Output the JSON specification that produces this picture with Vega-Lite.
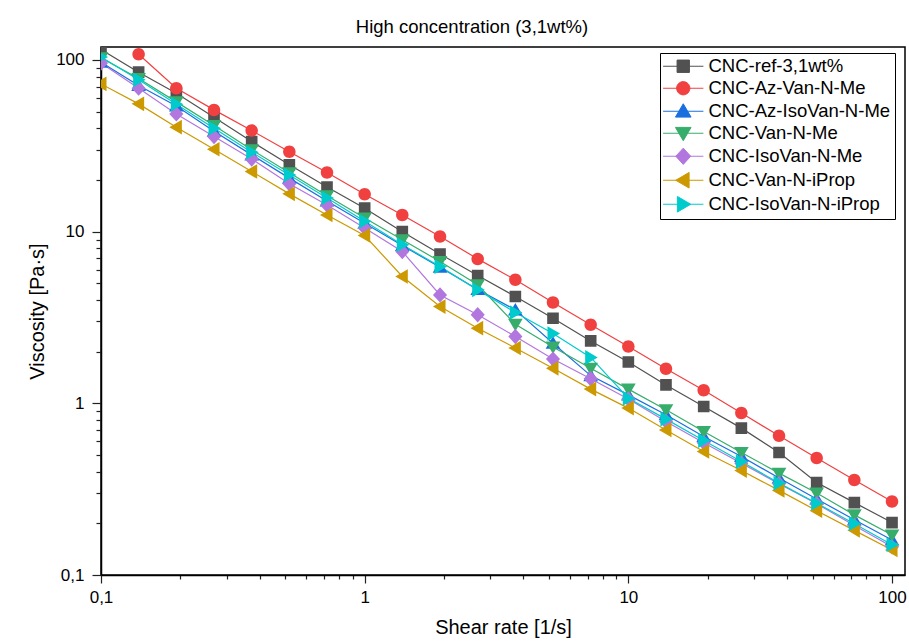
{
  "$schema": "https://vega.github.io/schema/vega-lite/v6.json",
  "width": 804,
  "height": 528,
  "autosize": {"type": "none"},
  "padding": {"left": 101, "top": 47, "right": 4, "bottom": 69},
  "background": "white",
  "title": {"text": "High concentration (3,1wt%)", "font": "Liberation Sans", "fontSize": 18.5, "fontWeight": "normal", "color": "#000", "anchor": "middle", "dx": -31, "dy": 18, "offset": 14, "frame": "group", "baseline": "alphabetic"},
  "config": {
    "view": {"stroke": "#000", "strokeWidth": 1.5},
    "axis": {"domainColor": "#000", "domainWidth": 1.5, "tickColor": "#222", "tickWidth": 1.2, "labelFont": "Liberation Sans", "labelFontSize": 17, "labelColor": "#000", "titleFont": "Liberation Sans", "titleFontSize": 20, "titleFontWeight": "normal", "titleColor": "#000", "grid": false},
    "legend": {"orient": "none", "legendX": 559, "legendY": 6, "padding": 4, "rowPadding": 3, "title": null,
      "strokeColor": "#000", "symbolOffset": 10, "labelOffset": 16, "labelLimit": 400, "labelFont": "Liberation Sans", "labelFontSize": 18.5, "labelColor": "#000",
      "symbolSize": 169, "symbolStrokeWidth": 1}
  },
  "data": {"values": [
    {"s": "CNC-ref-3,1wt%", "x": 0.1, "y": 115},
    {"s": "CNC-ref-3,1wt%", "x": 0.1389, "y": 84.9},
    {"s": "CNC-ref-3,1wt%", "x": 0.1931, "y": 64},
    {"s": "CNC-ref-3,1wt%", "x": 0.2683, "y": 46.4},
    {"s": "CNC-ref-3,1wt%", "x": 0.3728, "y": 33.5},
    {"s": "CNC-ref-3,1wt%", "x": 0.518, "y": 24.5},
    {"s": "CNC-ref-3,1wt%", "x": 0.7197, "y": 18.2},
    {"s": "CNC-ref-3,1wt%", "x": 1, "y": 13.7},
    {"s": "CNC-ref-3,1wt%", "x": 1.389, "y": 10.0},
    {"s": "CNC-ref-3,1wt%", "x": 1.931, "y": 7.4},
    {"s": "CNC-ref-3,1wt%", "x": 2.683, "y": 5.55},
    {"s": "CNC-ref-3,1wt%", "x": 3.728, "y": 4.19},
    {"s": "CNC-ref-3,1wt%", "x": 5.179, "y": 3.13},
    {"s": "CNC-ref-3,1wt%", "x": 7.197, "y": 2.31},
    {"s": "CNC-ref-3,1wt%", "x": 10, "y": 1.74},
    {"s": "CNC-ref-3,1wt%", "x": 13.89, "y": 1.28},
    {"s": "CNC-ref-3,1wt%", "x": 19.31, "y": 0.958},
    {"s": "CNC-ref-3,1wt%", "x": 26.83, "y": 0.717},
    {"s": "CNC-ref-3,1wt%", "x": 37.28, "y": 0.517},
    {"s": "CNC-ref-3,1wt%", "x": 51.79, "y": 0.346},
    {"s": "CNC-ref-3,1wt%", "x": 71.97, "y": 0.264},
    {"s": "CNC-ref-3,1wt%", "x": 100, "y": 0.202},
    {"s": "CNC-Az-Van-N-Me", "x": 0.1389, "y": 108},
    {"s": "CNC-Az-Van-N-Me", "x": 0.1931, "y": 68.5},
    {"s": "CNC-Az-Van-N-Me", "x": 0.2683, "y": 51.2},
    {"s": "CNC-Az-Van-N-Me", "x": 0.3728, "y": 38.8},
    {"s": "CNC-Az-Van-N-Me", "x": 0.518, "y": 29.2},
    {"s": "CNC-Az-Van-N-Me", "x": 0.7197, "y": 22.1},
    {"s": "CNC-Az-Van-N-Me", "x": 1, "y": 16.5},
    {"s": "CNC-Az-Van-N-Me", "x": 1.389, "y": 12.5},
    {"s": "CNC-Az-Van-N-Me", "x": 1.931, "y": 9.36},
    {"s": "CNC-Az-Van-N-Me", "x": 2.683, "y": 6.94},
    {"s": "CNC-Az-Van-N-Me", "x": 3.728, "y": 5.24},
    {"s": "CNC-Az-Van-N-Me", "x": 5.179, "y": 3.87},
    {"s": "CNC-Az-Van-N-Me", "x": 7.197, "y": 2.87},
    {"s": "CNC-Az-Van-N-Me", "x": 10, "y": 2.14},
    {"s": "CNC-Az-Van-N-Me", "x": 13.89, "y": 1.59},
    {"s": "CNC-Az-Van-N-Me", "x": 19.31, "y": 1.19},
    {"s": "CNC-Az-Van-N-Me", "x": 26.83, "y": 0.877},
    {"s": "CNC-Az-Van-N-Me", "x": 37.28, "y": 0.647},
    {"s": "CNC-Az-Van-N-Me", "x": 51.79, "y": 0.48},
    {"s": "CNC-Az-Van-N-Me", "x": 71.97, "y": 0.358},
    {"s": "CNC-Az-Van-N-Me", "x": 100, "y": 0.268},
    {"s": "CNC-Az-IsoVan-N-Me", "x": 0.1, "y": 97},
    {"s": "CNC-Az-IsoVan-N-Me", "x": 0.1389, "y": 71},
    {"s": "CNC-Az-IsoVan-N-Me", "x": 0.1931, "y": 54},
    {"s": "CNC-Az-IsoVan-N-Me", "x": 0.2683, "y": 38.5},
    {"s": "CNC-Az-IsoVan-N-Me", "x": 0.3728, "y": 28},
    {"s": "CNC-Az-IsoVan-N-Me", "x": 0.518, "y": 20.5},
    {"s": "CNC-Az-IsoVan-N-Me", "x": 0.7197, "y": 15.1},
    {"s": "CNC-Az-IsoVan-N-Me", "x": 1, "y": 11.2},
    {"s": "CNC-Az-IsoVan-N-Me", "x": 1.389, "y": 8.3},
    {"s": "CNC-Az-IsoVan-N-Me", "x": 1.931, "y": 6.2},
    {"s": "CNC-Az-IsoVan-N-Me", "x": 2.683, "y": 4.6},
    {"s": "CNC-Az-IsoVan-N-Me", "x": 3.728, "y": 3.5},
    {"s": "CNC-Az-IsoVan-N-Me", "x": 5.179, "y": 2.24},
    {"s": "CNC-Az-IsoVan-N-Me", "x": 7.197, "y": 1.45},
    {"s": "CNC-Az-IsoVan-N-Me", "x": 10, "y": 1.12},
    {"s": "CNC-Az-IsoVan-N-Me", "x": 13.89, "y": 0.857},
    {"s": "CNC-Az-IsoVan-N-Me", "x": 19.31, "y": 0.64},
    {"s": "CNC-Az-IsoVan-N-Me", "x": 26.83, "y": 0.49},
    {"s": "CNC-Az-IsoVan-N-Me", "x": 37.28, "y": 0.367},
    {"s": "CNC-Az-IsoVan-N-Me", "x": 51.79, "y": 0.277},
    {"s": "CNC-Az-IsoVan-N-Me", "x": 71.97, "y": 0.21},
    {"s": "CNC-Az-IsoVan-N-Me", "x": 100, "y": 0.16},
    {"s": "CNC-Van-N-Me", "x": 0.1, "y": 103},
    {"s": "CNC-Van-N-Me", "x": 0.1389, "y": 78},
    {"s": "CNC-Van-N-Me", "x": 0.1931, "y": 57},
    {"s": "CNC-Van-N-Me", "x": 0.2683, "y": 41.5},
    {"s": "CNC-Van-N-Me", "x": 0.3728, "y": 30},
    {"s": "CNC-Van-N-Me", "x": 0.518, "y": 22},
    {"s": "CNC-Van-N-Me", "x": 0.7197, "y": 16.2},
    {"s": "CNC-Van-N-Me", "x": 1, "y": 12.0},
    {"s": "CNC-Van-N-Me", "x": 1.389, "y": 8.96},
    {"s": "CNC-Van-N-Me", "x": 1.931, "y": 6.7},
    {"s": "CNC-Van-N-Me", "x": 2.683, "y": 4.9},
    {"s": "CNC-Van-N-Me", "x": 3.728, "y": 2.89},
    {"s": "CNC-Van-N-Me", "x": 5.179, "y": 2.13},
    {"s": "CNC-Van-N-Me", "x": 7.197, "y": 1.6},
    {"s": "CNC-Van-N-Me", "x": 10, "y": 1.21},
    {"s": "CNC-Van-N-Me", "x": 13.89, "y": 0.917},
    {"s": "CNC-Van-N-Me", "x": 19.31, "y": 0.685},
    {"s": "CNC-Van-N-Me", "x": 26.83, "y": 0.517},
    {"s": "CNC-Van-N-Me", "x": 37.28, "y": 0.392},
    {"s": "CNC-Van-N-Me", "x": 51.79, "y": 0.3},
    {"s": "CNC-Van-N-Me", "x": 71.97, "y": 0.224},
    {"s": "CNC-Van-N-Me", "x": 100, "y": 0.171},
    {"s": "CNC-IsoVan-N-Me", "x": 0.1, "y": 96},
    {"s": "CNC-IsoVan-N-Me", "x": 0.1389, "y": 68.5},
    {"s": "CNC-IsoVan-N-Me", "x": 0.1931, "y": 48.5},
    {"s": "CNC-IsoVan-N-Me", "x": 0.2683, "y": 35.8},
    {"s": "CNC-IsoVan-N-Me", "x": 0.3728, "y": 26.5},
    {"s": "CNC-IsoVan-N-Me", "x": 0.518, "y": 19},
    {"s": "CNC-IsoVan-N-Me", "x": 0.7197, "y": 14.3},
    {"s": "CNC-IsoVan-N-Me", "x": 1, "y": 10.5},
    {"s": "CNC-IsoVan-N-Me", "x": 1.389, "y": 7.66},
    {"s": "CNC-IsoVan-N-Me", "x": 1.931, "y": 4.28},
    {"s": "CNC-IsoVan-N-Me", "x": 2.683, "y": 3.28},
    {"s": "CNC-IsoVan-N-Me", "x": 3.728, "y": 2.45},
    {"s": "CNC-IsoVan-N-Me", "x": 5.179, "y": 1.81},
    {"s": "CNC-IsoVan-N-Me", "x": 7.197, "y": 1.39},
    {"s": "CNC-IsoVan-N-Me", "x": 10, "y": 1.06},
    {"s": "CNC-IsoVan-N-Me", "x": 13.89, "y": 0.784},
    {"s": "CNC-IsoVan-N-Me", "x": 19.31, "y": 0.59},
    {"s": "CNC-IsoVan-N-Me", "x": 26.83, "y": 0.448},
    {"s": "CNC-IsoVan-N-Me", "x": 37.28, "y": 0.34},
    {"s": "CNC-IsoVan-N-Me", "x": 51.79, "y": 0.26},
    {"s": "CNC-IsoVan-N-Me", "x": 71.97, "y": 0.194},
    {"s": "CNC-IsoVan-N-Me", "x": 100, "y": 0.146},
    {"s": "CNC-Van-N-iProp", "x": 0.1, "y": 72.5},
    {"s": "CNC-Van-N-iProp", "x": 0.1389, "y": 55.5},
    {"s": "CNC-Van-N-iProp", "x": 0.1931, "y": 40.6},
    {"s": "CNC-Van-N-iProp", "x": 0.2683, "y": 30.2},
    {"s": "CNC-Van-N-iProp", "x": 0.3728, "y": 22.4},
    {"s": "CNC-Van-N-iProp", "x": 0.518, "y": 16.6},
    {"s": "CNC-Van-N-iProp", "x": 0.7197, "y": 12.5},
    {"s": "CNC-Van-N-iProp", "x": 1, "y": 9.5},
    {"s": "CNC-Van-N-iProp", "x": 1.389, "y": 5.48},
    {"s": "CNC-Van-N-iProp", "x": 1.931, "y": 3.66},
    {"s": "CNC-Van-N-iProp", "x": 2.683, "y": 2.74},
    {"s": "CNC-Van-N-iProp", "x": 3.728, "y": 2.1},
    {"s": "CNC-Van-N-iProp", "x": 5.179, "y": 1.6},
    {"s": "CNC-Van-N-iProp", "x": 7.197, "y": 1.21},
    {"s": "CNC-Van-N-iProp", "x": 10, "y": 0.938},
    {"s": "CNC-Van-N-iProp", "x": 13.89, "y": 0.7},
    {"s": "CNC-Van-N-iProp", "x": 19.31, "y": 0.524},
    {"s": "CNC-Van-N-iProp", "x": 26.83, "y": 0.406},
    {"s": "CNC-Van-N-iProp", "x": 37.28, "y": 0.311},
    {"s": "CNC-Van-N-iProp", "x": 51.79, "y": 0.237},
    {"s": "CNC-Van-N-iProp", "x": 71.97, "y": 0.182},
    {"s": "CNC-Van-N-iProp", "x": 100, "y": 0.14},
    {"s": "CNC-IsoVan-N-iProp", "x": 0.1, "y": 104},
    {"s": "CNC-IsoVan-N-iProp", "x": 0.1389, "y": 76.6},
    {"s": "CNC-IsoVan-N-iProp", "x": 0.1931, "y": 55.3},
    {"s": "CNC-IsoVan-N-iProp", "x": 0.2683, "y": 40},
    {"s": "CNC-IsoVan-N-iProp", "x": 0.3728, "y": 29},
    {"s": "CNC-IsoVan-N-iProp", "x": 0.518, "y": 21.4},
    {"s": "CNC-IsoVan-N-iProp", "x": 0.7197, "y": 15.7},
    {"s": "CNC-IsoVan-N-iProp", "x": 1, "y": 11.5},
    {"s": "CNC-IsoVan-N-iProp", "x": 1.389, "y": 8.4},
    {"s": "CNC-IsoVan-N-iProp", "x": 1.931, "y": 6.26},
    {"s": "CNC-IsoVan-N-iProp", "x": 2.683, "y": 4.58},
    {"s": "CNC-IsoVan-N-iProp", "x": 3.728, "y": 3.38},
    {"s": "CNC-IsoVan-N-iProp", "x": 5.179, "y": 2.55},
    {"s": "CNC-IsoVan-N-iProp", "x": 7.197, "y": 1.85},
    {"s": "CNC-IsoVan-N-iProp", "x": 10, "y": 1.07},
    {"s": "CNC-IsoVan-N-iProp", "x": 13.89, "y": 0.809},
    {"s": "CNC-IsoVan-N-iProp", "x": 19.31, "y": 0.607},
    {"s": "CNC-IsoVan-N-iProp", "x": 26.83, "y": 0.458},
    {"s": "CNC-IsoVan-N-iProp", "x": 37.28, "y": 0.343},
    {"s": "CNC-IsoVan-N-iProp", "x": 51.79, "y": 0.262},
    {"s": "CNC-IsoVan-N-iProp", "x": 71.97, "y": 0.199},
    {"s": "CNC-IsoVan-N-iProp", "x": 100, "y": 0.15}
  ]},
  "encoding": {
    "x": {"field": "x", "type": "quantitative", "title": "Shear rate [1/s]",
      "scale": {"type": "log", "domain": [0.1, 112], "nice": false},
      "axis": {"values": [0.1,0.2,0.3,0.4,0.5,0.6,0.7,0.8,0.9,1,2,3,4,5,6,7,8,9,10,20,30,40,50,60,70,80,90,100],
        "labelExpr": "abs(log(datum.value)/LN10 - round(log(datum.value)/LN10)) < 0.001 ? replace(format(datum.value, '~g'), '.', ',') : ''",
        "tickSize": {"condition": {"test": "abs(log(datum.value)/LN10 - round(log(datum.value)/LN10)) < 0.001", "value": 8}, "value": 4},
        "labelPadding": 6, "titlePadding": 12, "labelFlush": false}},
    "y": {"field": "y", "type": "quantitative", "title": "Viscosity [Pa·s]",
      "scale": {"type": "log", "domain": [0.1, 119], "nice": false},
      "axis": {"values": [0.1,0.2,0.3,0.4,0.5,0.6,0.7,0.8,0.9,1,2,3,4,5,6,7,8,9,10,20,30,40,50,60,70,80,90,100],
        "labelExpr": "abs(log(datum.value)/LN10 - round(log(datum.value)/LN10)) < 0.001 ? replace(format(datum.value, '~g'), '.', ',') : ''",
        "tickSize": {"condition": {"test": "abs(log(datum.value)/LN10 - round(log(datum.value)/LN10)) < 0.001", "value": 9}, "value": 5},
        "labelPadding": 8, "titlePadding": 8, "labelFlush": false}}
  },
  "resolve": {"legend": {"color": "independent", "shape": "independent", "stroke": "independent"}},
  "layer": [
    {"mark": {"type": "line", "strokeWidth": 1.2, "clip": true},
      "encoding": {"color": {"field": "s", "type": "nominal", "legend": null,
        "scale": {"domain": ["CNC-ref-3,1wt%","CNC-Az-Van-N-Me","CNC-Az-IsoVan-N-Me","CNC-Van-N-Me","CNC-IsoVan-N-Me","CNC-Van-N-iProp","CNC-IsoVan-N-iProp"],
          "range": ["#515151","#F14040","#1A6FDF","#37AD6B","#B177DE","#CC9900","#00CBCC"]}}}},
    {"mark": {"type": "point", "filled": true, "opacity": 1, "size": 150, "clip": true},
      "encoding": {
        "color": {"field": "s", "type": "nominal",
          "scale": {"domain": ["CNC-ref-3,1wt%","CNC-Az-Van-N-Me","CNC-Az-IsoVan-N-Me","CNC-Van-N-Me","CNC-IsoVan-N-Me","CNC-Van-N-iProp","CNC-IsoVan-N-iProp"],
            "range": ["#515151","#F14040","#1A6FDF","#37AD6B","#B177DE","#CC9900","#00CBCC"]}},
        "stroke": {"field": "s", "type": "nominal",
          "scale": {"domain": ["CNC-ref-3,1wt%","CNC-Az-Van-N-Me","CNC-Az-IsoVan-N-Me","CNC-Van-N-Me","CNC-IsoVan-N-Me","CNC-Van-N-iProp","CNC-IsoVan-N-iProp"],
            "range": ["#515151","#F14040","#1A6FDF","#37AD6B","#B177DE","#CC9900","#00CBCC"]}},
        "strokeWidth": {"value": 0},
        "shape": {"field": "s", "type": "nominal",
          "scale": {"domain": ["CNC-ref-3,1wt%","CNC-Az-Van-N-Me","CNC-Az-IsoVan-N-Me","CNC-Van-N-Me","CNC-IsoVan-N-Me","CNC-Van-N-iProp","CNC-IsoVan-N-iProp"],
            "range": ["M-3.1,0H3.1M-0.95,-0.95H0.95V0.95H-0.95Z","M-3.1,0H3.1M1.02,0A1.02,1.02,0,1,1,-1.02,0A1.02,1.02,0,1,1,1.02,0Z","M-3.1,0H3.1M0,-1.15L1.2,0.9H-1.2Z","M-3.1,0H3.1M0,1.15L1.2,-0.9H-1.2Z","M-3.1,0H3.1M0,-1.25L1.15,0L0,1.25L-1.15,0Z","M-3.1,0H3.1M-1.15,0L0.9,-1.2V1.2Z","M-3.1,0H3.1M1.15,0L-0.9,-1.2V1.2Z"]}}
      }
    }
  ]
}
